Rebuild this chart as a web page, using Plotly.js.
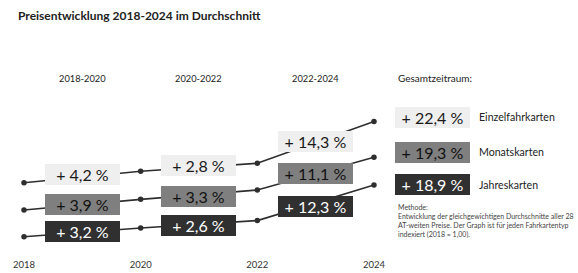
<!DOCTYPE html>
<html><head><meta charset="utf-8">
<script src="https://cdn.plot.ly/plotly-3.0.1.min.js"></script>
<style>html,body{margin:0;padding:0;background:#fff;}#chart{width:578px;height:273px;}</style>
</head><body><div id="chart"></div>
<script>
// ---- data ----
const years = [2018, 2020, 2022, 2024];
const periodLabels = ['2018-2020', '2020-2022', '2022-2024'];
const seriesNames = ['Einzelfahrkarten', 'Monatskarten', 'Jahreskarten'];
const einzelIndex = [1.000, 1.042, 1.071, 1.224];
const monatsIndex = [1.000, 1.039, 1.073, 1.193];
const jahresIndex = [1.000, 1.032, 1.059, 1.189];
const einzelPct = ['+ 4,2 %', '+ 2,8 %', '+ 14,3 %'];
const monatsPct = ['+ 3,9 %', '+ 3,3 %', '+ 11,1 %'];
const jahresPct = ['+ 3,2 %', '+ 2,6 %', '+ 12,3 %'];
const totalPct = ['+ 22,4 %', '+ 19,3 %', '+ 18,9 %'];
const totalLabel = 'Gesamtzeitraum:';
const titleText = 'Preisentwicklung 2018-2024 im Durchschnitt';
const methodLines = ['Methode:',
  'Entwicklung der gleichgewichtigen Durchschnitte aller 28',
  'AT-weiten Preise. Der Graph ist für jeden Fahrkartentyp',
  'indexiert (2018 = 1,00).'];

// ---- layout helpers ----
const W = 578, H = 273, MB = 16, PH = H - MB;
const FONT = 'Lato, "Open Sans", sans-serif';
const px = x => x / W;
const py = y => (PH - y) / PH;

const lineColor = '#2e2e2e';
const boxColors = ['#efefef', '#7f7f7f', '#303030'];
const boxText = ['#1a1a1a', '#111111', '#ffffff'];
const indexSets = [einzelIndex, monatsIndex, jahresIndex];
const pctSets = [einzelPct, monatsPct, jahresPct];
const yAxisIds = ['y', 'y2', 'y3'];

const traces = indexSets.map((vals, i) => ({
  x: years, y: vals, yaxis: yAxisIds[i], type: 'scatter', mode: 'lines+markers',
  name: seriesNames[i], line: {color: lineColor, width: 1.6},
  marker: {color: lineColor, size: 5.5}, hoverinfo: 'skip', showlegend: false
}));

// box vertical centres (pixels) per series: 3 periods + total
const boxY = [[174, 166, 141.7, 117], [204, 196, 173.3, 152], [231, 225, 206, 184.7]];
const boxX = [2019, 2021, 2023, 2025];

const ann = [];
ann.push({text: '<b>' + titleText + '</b>', xref: 'paper', yref: 'paper', x: px(16), y: py(15),
  xanchor: 'left', yanchor: 'middle', showarrow: false, font: {family: FONT, size: 12, color: '#222'}});
periodLabels.forEach((p, j) => ann.push({text: p, xref: 'x', yref: 'paper', x: boxX[j], y: py(78.5),
  xanchor: 'center', yanchor: 'middle', showarrow: false, font: {family: FONT, size: 9.3, color: '#222'}}));
ann.push({text: totalLabel, xref: 'paper', yref: 'paper', x: px(396), y: py(77.5),
  xanchor: 'left', yanchor: 'middle', showarrow: false, font: {family: FONT, size: 10, color: '#222'}});

for (let i = 0; i < 3; i++) {
  const labels = pctSets[i].concat([totalPct[i]]);
  labels.forEach((t, j) => ann.push({text: t, xref: 'x', yref: 'paper', x: boxX[j], y: py(boxY[i][j]),
    xanchor: 'center', yanchor: 'middle', showarrow: false, width: 75, height: 21,
    bgcolor: boxColors[i], borderwidth: 0, borderpad: 0, valign: 'middle',
    font: {family: FONT, size: 16, color: boxText[i]}}));
  ann.push({text: seriesNames[i], xref: 'paper', yref: 'paper', x: px(477), y: py(boxY[i][3]),
    xanchor: 'left', yanchor: 'middle', showarrow: false, font: {family: FONT, size: 10.6, color: '#222'}});
}
ann.push({text: methodLines.join('<br>'), xref: 'paper', yref: 'paper', x: px(396), y: py(220.6),
  xanchor: 'left', yanchor: 'middle', align: 'left', showarrow: false,
  font: {family: FONT, size: 7, color: '#444'}});

// y axes: common scale of 273 px per index unit, each series shifted by 0.1
const k = 273;
const base = [182.7, 210, 236.7];
const yr = b => [1 + (b - PH) / k, 1 + b / k];
const hiddenY = b => ({range: yr(b), visible: false, showgrid: false, zeroline: false, fixedrange: true});

const layout = {
  width: W, height: H, margin: {l: 0, r: 0, t: 0, b: MB},
  paper_bgcolor: '#fff', plot_bgcolor: '#fff', showlegend: false,
  xaxis: {range: [2018 - 24 / 58.33, 2018 + 554 / 58.33], tickvals: years, ticktext: years.map(String),
    showgrid: false, zeroline: false, showline: false, ticks: '',
    tickfont: {family: FONT, size: 9.5, color: '#333'}},
  yaxis: hiddenY(base[0]),
  yaxis2: Object.assign(hiddenY(base[1]), {overlaying: 'y'}),
  yaxis3: Object.assign(hiddenY(base[2]), {overlaying: 'y'}),
  annotations: ann
};
Plotly.newPlot('chart', traces, layout, {staticPlot: true, displayModeBar: false});
</script></body></html>
